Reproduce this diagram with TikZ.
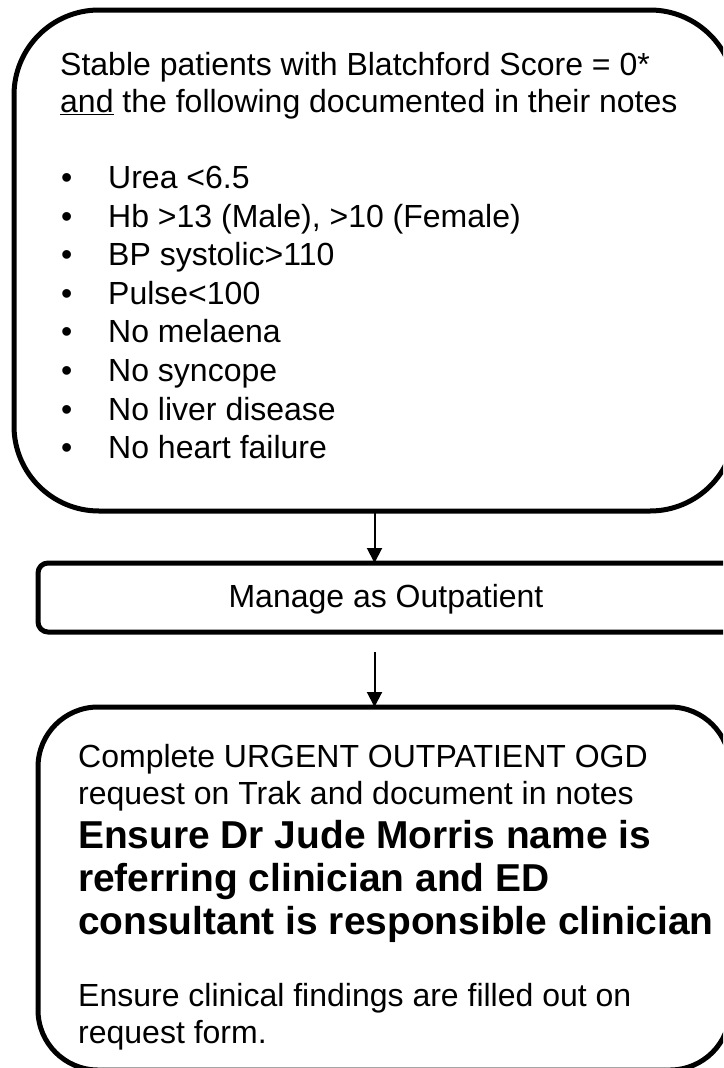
\documentclass[tikz,border=0pt]{standalone}
\usepackage{fontspec}
\setmainfont{Liberation Sans}
\usetikzlibrary{arrows.meta}
\begin{document}
\begin{tikzpicture}[x=1pt,y=-1pt,
  box/.style={draw, line width=5pt, outer sep=0pt, inner sep=0pt, anchor=north west},
  arr/.style={line width=2pt, -{Triangle[length=15pt,width=15pt]}},
  txt/.style={anchor=base west, inner sep=0pt, font=\fontsize{32}{38}\selectfont},
  btxt/.style={anchor=base west, inner sep=0pt, font=\fontsize{38.9}{43}\selectfont\bfseries}]
\useasboundingbox (0,0) rectangle (723,1068);
\clip (0,0) rectangle (723,1068);
% boxes
\node[box, rounded corners=85pt, minimum width=721pt, minimum height=501pt] (top) at (14,10) {};
\node[box, rounded corners=10pt, minimum width=722pt, minimum height=69pt] (mid) at (38,563) {};
\node[box, rounded corners=60pt, minimum width=692pt, minimum height=363pt] (bot) at (38,707) {};
% connectors
\draw[arr] (top.south) -- (top.south |- mid.north);
\coordinate (a2) at ([yshift=-20pt]top.south |- mid.south);
\draw[arr] (a2) -- (a2 |- bot.north);
% top text
\node[txt] (t1) at (60,75) {Stable patients with Blatchford Score = 0*};
\node[txt] (t2) at (60,112) {\underline{and} the following documented in their notes};
\foreach \y/\t [count=\i] in {188/{Urea <6.5}, 227/{Hb >13 (Male), >10 (Female)}, 265/{BP systolic>110}, 304/{Pulse<100}, 342/{No melaena}, 381/{No syncope}, 420/{No liver disease}, 458/{No heart failure}}{
  \node[txt] (d\i) at (61,\y) {•};
  \node[txt] (b\i) at (108,\y) {\t};
}
% middle text
\node[txt, anchor=base] (m1) at (386,607) {Manage as Outpatient};
% bottom text
\node[txt] (c1) at (78,767) {Complete URGENT OUTPATIENT OGD};
\node[txt] (c2) at (78,804) {request on Trak and document in notes};
\node[btxt] (c3) at (78,848) {Ensure Dr Jude Morris name is};
\node[btxt] (c4) at (78,891) {referring clinician and ED};
\node[btxt] (c5) at (78,934) {consultant is responsible clinician};
\node[txt] (c6) at (78,1006) {Ensure clinical findings are filled out on};
\node[txt] (c7) at (78,1043) {request form.};
\end{tikzpicture}
\end{document}
